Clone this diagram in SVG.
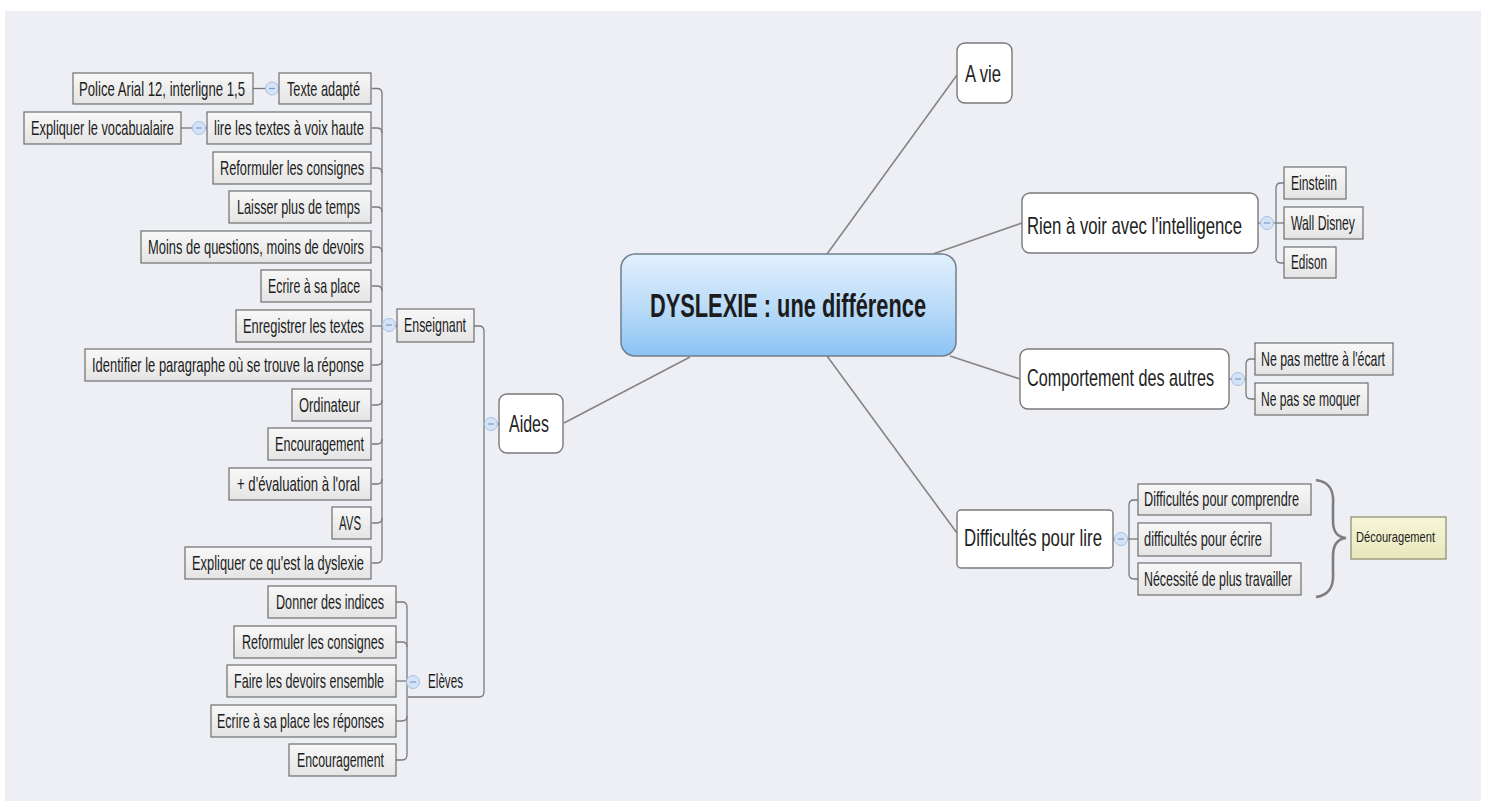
<svg xmlns="http://www.w3.org/2000/svg" width="1489" height="801" viewBox="0 0 1489 801">
<defs>
<linearGradient id="lg" x1="0" y1="0" x2="0" y2="1"><stop offset="0" stop-color="#f8f8f8"/><stop offset="1" stop-color="#e4e4e4"/></linearGradient>
<linearGradient id="cg" x1="0" y1="0" x2="0" y2="1"><stop offset="0" stop-color="#e2f0fd"/><stop offset="0.5" stop-color="#bcdcf8"/><stop offset="1" stop-color="#8cc3f3"/></linearGradient>
<linearGradient id="yg" x1="0" y1="0" x2="0" y2="1"><stop offset="0" stop-color="#f6f6d8"/><stop offset="1" stop-color="#e8e8bc"/></linearGradient>
<style>
.leaf rect{fill:url(#lg);stroke:#6e6e6e;stroke-width:1.2}
.topic rect{fill:#fff;stroke:#7a7a7a;stroke-width:1.4}
text{font-family:"Liberation Sans",Arial,sans-serif;fill:#1c1c1c}
.leaf text{font-size:20px}
.topic text{font-size:23px;fill:#222}
.con path{fill:none;stroke:#7a7a7a;stroke-width:1.3}
.con .main{stroke:#858585;stroke-width:1.6}
.col circle{fill:#d4e3f6;stroke:#a6c0e3;stroke-width:1}
.col path{stroke:#7e9cc6;stroke-width:1.2}
</style>
</defs>
<rect x="0" y="0" width="1489" height="801" fill="#ffffff"/>
<rect x="5" y="11" width="1476" height="790" fill="#eeeff4"/>

<g id="connectors" class="con">
<path class="main" d="M690,357 L564,423"/>
<path class="main" d="M827,254 L957,75"/>
<path class="main" d="M933,254 L1022,223"/>
<path class="main" d="M950,356 L1020,379"/>
<path class="main" d="M827,356 L957,533"/>
<path d="M474,326 H479 Q484,326 484,331 V692 Q484,697 479,697 H408"/>
<path d="M484,424 H499"/>
<path d="M382,93 V558"/>
<path d="M372,88.5 H377 Q382,88.5 382,93.5"/>
<path d="M372,128 H377 Q382,128 382,133"/>
<path d="M372,168 H377 Q382,168 382,173"/>
<path d="M372,207 H377 Q382,207 382,212"/>
<path d="M372,247 H377 Q382,247 382,252"/>
<path d="M372,286 H377 Q382,286 382,291"/>
<path d="M372,326 H397"/>
<path d="M372,365 H377 Q382,365 382,360"/>
<path d="M372,405 H377 Q382,405 382,400"/>
<path d="M372,444 H377 Q382,444 382,439"/>
<path d="M372,484 H377 Q382,484 382,479"/>
<path d="M372,523 H377 Q382,523 382,518"/>
<path d="M372,563 H377 Q382,563 382,558"/>
<path d="M253,88.5 H279"/>
<path d="M181,128 H207"/>
<path d="M407,607 V755"/>
<path d="M396,602 H402 Q407,602 407,607"/>
<path d="M396,642 H402 Q407,642 407,647"/>
<path d="M396,681 H413"/>
<path d="M396,721 H402 Q407,721 407,716"/>
<path d="M396,760 H402 Q407,760 407,755"/>
<path d="M1258,223 H1284"/>
<path d="M1284,183 H1281 Q1276,183 1276,188 V258 Q1276,263 1281,263 H1284"/>
<path d="M1229,379 H1246"/>
<path d="M1255,359 H1251 Q1246,359 1246,364 V394 Q1246,399 1251,399 H1255"/>
<path d="M1113,539 H1138"/>
<path d="M1138,500 H1134 Q1129,500 1129,505 V574 Q1129,579 1134,579 H1138"/>
<path d="M1316,480 C1331,482 1334,492 1333,505 L1333,521 C1333,532 1337,537 1346,538 C1337,539 1333,545 1333,556 L1333,572 C1334,586 1330,595 1316,597" style="stroke:#7d7d7d;stroke-width:2.6"/>
<g class="col"><circle cx="272" cy="88.5" r="6.5"/><path d="M269,88.5 H275"/></g>
<g class="col"><circle cx="199" cy="128" r="6.5"/><path d="M196,128 H202"/></g>
<g class="col"><circle cx="389" cy="325" r="6.5"/><path d="M386,325 H392"/></g>
<g class="col"><circle cx="491" cy="424" r="6.5"/><path d="M488,424 H494"/></g>
<g class="col"><circle cx="413" cy="682" r="6.5"/><path d="M410,682 H416"/></g>
<g class="col"><circle cx="1267" cy="223" r="6.5"/><path d="M1264,223 H1270"/></g>
<g class="col"><circle cx="1238" cy="379" r="6.5"/><path d="M1235,379 H1241"/></g>
<g class="col"><circle cx="1121" cy="539" r="6.5"/><path d="M1118,539 H1124"/></g>
</g>

<g id="n-central"><rect x="621" y="254" width="335" height="102" rx="14" fill="url(#cg)" stroke="#6f7f8f" stroke-width="1.5"/><text transform="matrix(0.7 0 0 1 650 317)" font-size="33" font-weight="bold" fill="#2e3946" textLength="394.3" lengthAdjust="spacingAndGlyphs">DYSLEXIE : une différence</text></g>

<g id="n-avie" class="topic"><rect x="957" y="43" width="55" height="60" rx="8"/><text transform="matrix(0.62 0 0 1 965 82)" textLength="58.1" lengthAdjust="spacingAndGlyphs">A vie</text></g>
<g id="n-rien" class="topic"><rect x="1022" y="193" width="236" height="60" rx="8"/><text transform="matrix(0.62 0 0 1 1027 234)" textLength="346.8" lengthAdjust="spacingAndGlyphs">Rien à voir avec l'intelligence</text></g>
<g id="n-comportement" class="topic"><rect x="1020" y="349" width="209" height="60" rx="8"/><text transform="matrix(0.62 0 0 1 1027 386)" textLength="301.6" lengthAdjust="spacingAndGlyphs">Comportement des autres</text></g>
<g id="n-difficultes" class="topic"><rect x="957" y="510" width="156" height="58" rx="4"/><text transform="matrix(0.62 0 0 1 964 546)" textLength="222.6" lengthAdjust="spacingAndGlyphs">Difficultés pour lire</text></g>
<g id="n-aides" class="topic"><rect x="499" y="394" width="64" height="59" rx="8"/><text transform="matrix(0.62 0 0 1 509 432)" textLength="64.5" lengthAdjust="spacingAndGlyphs">Aides</text></g>

<g id="n-einstein" class="leaf"><rect x="1284" y="167" width="62" height="32"/><text transform="matrix(0.62 0 0 1 1291 189.5)" textLength="74.2" lengthAdjust="spacingAndGlyphs">Einsteiin</text></g>
<g id="n-disney" class="leaf"><rect x="1284" y="207" width="79" height="32"/><text transform="matrix(0.62 0 0 1 1291 229.5)" textLength="103.2" lengthAdjust="spacingAndGlyphs">Wall Disney</text></g>
<g id="n-edison" class="leaf"><rect x="1284" y="247" width="52" height="31"/><text transform="matrix(0.62 0 0 1 1291 269)" textLength="58.1" lengthAdjust="spacingAndGlyphs">Edison</text></g>
<g id="n-ecart" class="leaf"><rect x="1255" y="343" width="138" height="32"/><text transform="matrix(0.62 0 0 1 1261 365.5)" textLength="200" lengthAdjust="spacingAndGlyphs">Ne pas mettre à l'écart</text></g>
<g id="n-moquer" class="leaf"><rect x="1255" y="383" width="113" height="32"/><text transform="matrix(0.62 0 0 1 1261 405.5)" textLength="159.7" lengthAdjust="spacingAndGlyphs">Ne pas se moquer</text></g>
<g id="n-comprendre" class="leaf"><rect x="1138" y="484" width="173" height="31"/><text transform="matrix(0.62 0 0 1 1144 506)" textLength="250" lengthAdjust="spacingAndGlyphs">Difficultés pour comprendre</text></g>
<g id="n-ecrire-d" class="leaf"><rect x="1138" y="523" width="133" height="33"/><text transform="matrix(0.62 0 0 1 1144 546)" textLength="190.3" lengthAdjust="spacingAndGlyphs">difficultés pour écrire</text></g>
<g id="n-travailler" class="leaf"><rect x="1138" y="563" width="163" height="32"/><text transform="matrix(0.62 0 0 1 1144 585.5)" textLength="238.7" lengthAdjust="spacingAndGlyphs">Nécessité de plus travailler</text></g>
<g id="n-decouragement"><rect x="1351" y="517" width="95" height="42" fill="url(#yg)" stroke="#8a8a6a" stroke-width="1.2"/><text transform="matrix(0.8 0 0 1 1356 542)" font-size="14.5" fill="#4f4f2f" textLength="98.8" lengthAdjust="spacingAndGlyphs">Découragement</text></g>

<g id="n-enseignant" class="leaf"><rect x="397" y="309" width="77" height="33"/><text transform="matrix(0.62 0 0 1 404 332)" textLength="100" lengthAdjust="spacingAndGlyphs">Enseignant</text></g>
<g id="n-eleves"><text transform="matrix(0.62 0 0 1 428 688)" font-size="20" textLength="56.5" lengthAdjust="spacingAndGlyphs">Elèves</text></g>

<g id="n-police" class="leaf"><rect x="73" y="73" width="180" height="31"/><text transform="matrix(0.62 0 0 1 79 95.5)" textLength="267.7" lengthAdjust="spacingAndGlyphs">Police Arial 12, interligne 1,5</text></g>
<g id="n-texte" class="leaf"><rect x="279" y="73" width="92" height="31"/><text transform="matrix(0.62 0 0 1 287 95.5)" textLength="117.7" lengthAdjust="spacingAndGlyphs">Texte adapté</text></g>
<g id="n-vocab" class="leaf"><rect x="24" y="112" width="157" height="32"/><text transform="matrix(0.62 0 0 1 31 134.5)" textLength="230.6" lengthAdjust="spacingAndGlyphs">Expliquer le vocabualaire</text></g>
<g id="n-lire" class="leaf"><rect x="207" y="112" width="164" height="32"/><text transform="matrix(0.62 0 0 1 214 134.5)" textLength="241.9" lengthAdjust="spacingAndGlyphs">lire les textes à voix haute</text></g>
<g id="n-reformuler1" class="leaf"><rect x="213" y="152" width="158" height="32"/><text transform="matrix(0.62 0 0 1 220 174.5)" textLength="232.3" lengthAdjust="spacingAndGlyphs">Reformuler les consignes</text></g>
<g id="n-laisser" class="leaf"><rect x="229" y="191" width="142" height="32"/><text transform="matrix(0.62 0 0 1 237 213.5)" textLength="198.4" lengthAdjust="spacingAndGlyphs">Laisser plus de temps</text></g>
<g id="n-moins" class="leaf"><rect x="141" y="231" width="230" height="32"/><text transform="matrix(0.62 0 0 1 148 253.5)" textLength="348.4" lengthAdjust="spacingAndGlyphs">Moins de questions, moins de devoirs</text></g>
<g id="n-ecrire1" class="leaf"><rect x="261" y="270" width="110" height="32"/><text transform="matrix(0.62 0 0 1 268 292.5)" textLength="148.4" lengthAdjust="spacingAndGlyphs">Ecrire à sa place</text></g>
<g id="n-enregistrer" class="leaf"><rect x="236" y="310" width="135" height="32"/><text transform="matrix(0.62 0 0 1 243 332.5)" textLength="195.2" lengthAdjust="spacingAndGlyphs">Enregistrer les textes</text></g>
<g id="n-identifier" class="leaf"><rect x="85" y="349" width="286" height="32"/><text transform="matrix(0.62 0 0 1 92 371.5)" textLength="438.7" lengthAdjust="spacingAndGlyphs">Identifier le paragraphe où se trouve la réponse</text></g>
<g id="n-ordinateur" class="leaf"><rect x="292" y="389" width="79" height="32"/><text transform="matrix(0.62 0 0 1 299 411.5)" textLength="98.4" lengthAdjust="spacingAndGlyphs">Ordinateur</text></g>
<g id="n-encouragement1" class="leaf"><rect x="268" y="428" width="103" height="32"/><text transform="matrix(0.62 0 0 1 275 450.5)" textLength="143.5" lengthAdjust="spacingAndGlyphs">Encouragement</text></g>
<g id="n-evaluation" class="leaf"><rect x="229" y="468" width="142" height="32"/><text transform="matrix(0.62 0 0 1 237 490.5)" textLength="198.4" lengthAdjust="spacingAndGlyphs">+ d'évaluation à l'oral</text></g>
<g id="n-avs" class="leaf"><rect x="332" y="507" width="39" height="32"/><text transform="matrix(0.62 0 0 1 339 529.5)" textLength="35.5" lengthAdjust="spacingAndGlyphs">AVS</text></g>
<g id="n-expliquer" class="leaf"><rect x="185" y="547" width="186" height="32"/><text transform="matrix(0.62 0 0 1 192 569.5)" textLength="277.4" lengthAdjust="spacingAndGlyphs">Expliquer ce qu'est la dyslexie</text></g>

<g id="n-donner" class="leaf"><rect x="268" y="586" width="128" height="32"/><text transform="matrix(0.62 0 0 1 276 608.5)" textLength="174.2" lengthAdjust="spacingAndGlyphs">Donner des indices</text></g>
<g id="n-reformuler2" class="leaf"><rect x="234" y="626" width="162" height="32"/><text transform="matrix(0.62 0 0 1 242 648.5)" textLength="229" lengthAdjust="spacingAndGlyphs">Reformuler les consignes</text></g>
<g id="n-faire" class="leaf"><rect x="227" y="665" width="169" height="32"/><text transform="matrix(0.62 0 0 1 234 687.5)" textLength="241.9" lengthAdjust="spacingAndGlyphs">Faire les devoirs ensemble</text></g>
<g id="n-ecrire2" class="leaf"><rect x="211" y="705" width="185" height="32"/><text transform="matrix(0.62 0 0 1 217 727.5)" textLength="269.4" lengthAdjust="spacingAndGlyphs">Ecrire à sa place les réponses</text></g>
<g id="n-encouragement2" class="leaf"><rect x="289" y="744" width="107" height="32"/><text transform="matrix(0.62 0 0 1 297 766.5)" textLength="140.3" lengthAdjust="spacingAndGlyphs">Encouragement</text></g>
</svg>
